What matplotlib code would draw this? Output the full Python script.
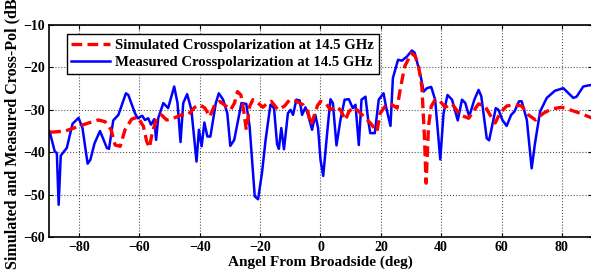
import numpy as np
import matplotlib
matplotlib.use("Agg")
import matplotlib.pyplot as plt

# simulated crosspolarization (red dashed)
sim_angle = [-89.6, -84.6, -80.2, -76.9, -73.6, -71.4, -69.4, -68.1, -66.4, -64.8,
             -62.6, -60.6, -58.7, -57.6, -56.7, -55.8, -54.3, -52.7, -51.0, -48.8,
             -46.1, -43.9, -41.7, -40.0, -38.3, -36.7, -35.3, -33.4, -31.2, -29.8,
             -28.5, -27.5, -26.4, -25.5, -24.6, -23.5, -22.4, -20.7, -19.1, -17.6,
             -16.3, -14.1, -11.9, -10.2, -8.0, -5.8, -4.2, -3.2, -2.0, -1.0,
             0.0, 1.7, 3.3, 5.0, 6.6, 8.3, 9.4, 11.0, 12.7, 14.9,
             16.5, 18.7, 19.8, 21.5, 23.7, 25.4, 26.5, 27.9, 30.1, 31.4,
             32.5, 33.6, 34.5, 35.0, 35.8, 36.7, 38.0, 39.7, 41.3, 43.6,
             46.3, 49.1, 52.4, 54.6, 56.2, 57.9, 59.5, 61.7, 64.5, 66.7,
             68.9, 71.3, 73.9, 76.6, 79.9, 82.7, 86.0, 89.9]
sim_db = [-35.3, -35.0, -33.9, -33.1, -32.4, -32.8, -34.7, -38.3, -38.6, -34.7,
          -32.2, -31.7, -33.9, -37.5, -38.9, -35.5, -32.0, -31.2, -32.4, -32.0,
          -31.2, -31.2, -29.4, -28.8, -29.6, -31.6, -29.2, -28.0, -29.2, -30.0,
          -28.4, -25.7, -26.5, -30.0, -34.7, -29.2, -27.6, -28.4, -29.4, -28.4,
          -28.0, -30.0, -29.1, -27.6, -28.0, -28.8, -30.4, -33.5, -31.2, -29.0,
          -28.0, -28.4, -30.0, -29.2, -30.0, -32.4, -30.4, -29.4, -30.4, -32.0,
          -33.1, -35.1, -30.8, -29.1, -28.8, -29.6, -24.9, -19.8, -16.6, -17.4,
          -19.8, -24.5, -37.1, -47.3, -33.9, -29.2, -27.6, -28.0, -29.4, -28.6,
          -31.2, -32.0, -28.6, -29.2, -31.2, -33.1, -30.8, -29.1, -28.8, -29.1,
          -31.2, -32.4, -30.8, -29.8, -29.4, -30.0, -30.8, -31.9]

# measured crosspolarization (blue solid)
meas_angle = [-89.8, -88.1, -87.4, -86.8, -86.1, -84.1, -82.2, -80.2, -78.9, -77.2,
              -76.3, -74.9, -73.1, -70.8, -70.1, -68.7, -67.0, -64.5, -63.7, -61.5,
              -60.6, -59.1, -58.2, -57.1, -56.2, -55.1, -54.5, -53.8, -52.1, -50.5,
              -48.5, -47.4, -46.4, -45.5, -44.2, -42.8, -41.1, -40.3, -39.4, -38.5,
              -37.5, -36.5, -34.7, -33.7, -32.3, -30.9, -29.9, -28.6, -26.2, -24.6,
              -23.5, -21.8, -20.7, -19.4, -18.2, -16.6, -15.4, -14.4, -13.8, -13.0,
              -12.1, -10.8, -9.9, -9.1, -8.0, -6.9, -6.1, -5.0, -4.1, -2.8,
              -1.7, -0.8, 0.0, 0.9, 2.2, 3.3, 4.1, 5.3, 6.6, 8.0,
              9.4, 10.7, 11.6, 12.7, 13.6, 14.9, 15.8, 16.5, 18.0, 19.3,
              20.9, 21.7, 23.2, 24.0, 25.7, 27.0, 28.7, 30.3, 31.2, 33.1,
              34.2, 35.3, 36.7, 38.0, 39.7, 40.8, 42.1, 43.6, 45.5, 46.9,
              48.0, 49.3, 51.0, 52.4, 53.3, 55.1, 55.9, 58.1, 59.0, 60.3,
              61.7, 63.2, 64.3, 65.8, 66.7, 68.4, 70.0, 71.1, 72.8, 75.0,
              77.7, 80.5, 82.2, 83.8, 84.9, 87.1, 89.9]
meas_db = [-35.1, -39.8, -40.2, -52.4, -40.8, -39.0, -33.3, -31.9, -34.3, -42.7,
           -41.8, -37.9, -35.0, -39.0, -39.2, -32.5, -31.2, -26.1, -26.5, -30.8,
           -32.0, -31.4, -32.4, -32.0, -33.5, -32.2, -37.1, -32.0, -28.4, -29.6,
           -24.5, -28.4, -37.6, -28.4, -26.3, -30.0, -42.2, -34.7, -38.6, -33.0,
           -36.3, -36.3, -28.4, -26.1, -27.6, -30.8, -38.5, -37.1, -28.4, -28.6,
           -33.9, -50.4, -51.1, -44.9, -37.1, -28.8, -29.6, -38.1, -39.2, -34.3,
           -39.3, -30.8, -30.0, -31.2, -27.6, -27.8, -31.2, -29.4, -31.2, -34.7,
           -31.2, -34.3, -41.8, -45.6, -35.5, -27.5, -28.4, -38.4, -32.4, -27.6,
           -27.5, -29.6, -28.8, -38.3, -27.6, -26.9, -32.4, -35.5, -35.5, -27.6,
           -26.1, -29.2, -33.8, -22.5, -18.2, -18.4, -17.4, -16.0, -16.5, -21.7,
           -25.7, -24.9, -24.6, -27.6, -41.7, -30.8, -26.5, -27.6, -32.5, -27.6,
           -28.4, -31.6, -27.6, -25.3, -26.8, -36.7, -37.2, -29.6, -30.0, -32.4,
           -33.8, -31.2, -30.4, -28.0, -28.0, -32.4, -43.8, -37.9, -30.4, -27.2,
           -25.5, -24.9, -26.1, -27.2, -26.9, -24.5, -24.1]

xticks = [-80, -60, -40, -20, 0, 20, 40, 60, 80]
yticks = [-60, -50, -40, -30, -20, -10]

plt.rcParams['font.family'] = ['Liberation Serif', 'DejaVu Serif']
plt.rcParams['font.weight'] = 'bold'

fig = plt.figure(figsize=(5.91, 2.76), dpi=100)
ax = fig.add_axes([0.0829, 0.1413, 0.9188, 0.768])

ax.plot(sim_angle, sim_db, color='#ff0000', linestyle='--', linewidth=2.4,
        dashes=(3.2, 1.6), label='Simulated Crosspolarization at 14.5 GHz', zorder=3)
ax.plot(meas_angle, meas_db, color='#0000ff', linewidth=1.8,
        label='Measured Crosspolarization at 14.5 GHz', zorder=2)

ax.set_xlim(-90, 90)
ax.set_ylim(-60, -10)
ax.set_xticks(xticks)
ax.set_yticks(yticks)
ax.tick_params(direction='in', top=True, right=True, length=3, width=0.8,
               labelsize=10, pad=3)
for lab in ax.get_xticklabels() + ax.get_yticklabels():
    lab.set_fontweight('bold')
ax.grid(True, linestyle=':', color='#555555', linewidth=0.8)
for s in ax.spines.values():
    s.set_linewidth(1.2)

ax.set_xlabel('Angel From Broadside (deg)', fontsize=11, fontweight='bold', labelpad=1)
ax.set_ylabel('Simulated and Measured Cross-Pol (dB)', fontsize=11.5, fontweight='bold', labelpad=2)

leg = ax.legend(loc='upper left', bbox_to_anchor=(0.033, 0.958), fontsize=10.6,
                frameon=True, fancybox=False, edgecolor='black', framealpha=1,
                handlelength=2.6, borderpad=0.3, labelspacing=0.3, handletextpad=0.4,
                borderaxespad=0)
leg.get_frame().set_linewidth(1.0)
for t in leg.get_texts():
    t.set_fontweight('bold')

fig.savefig('out.png', dpi=100)
